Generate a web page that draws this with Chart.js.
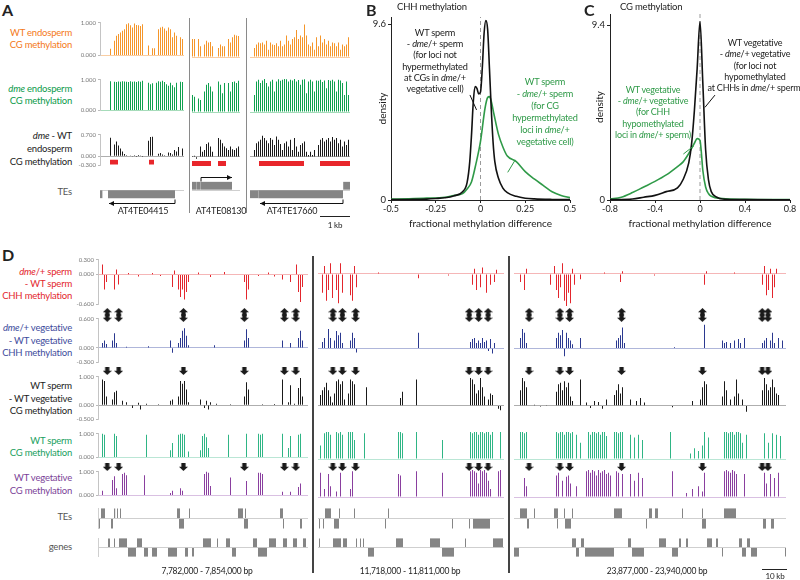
<!DOCTYPE html>
<html>
<head>
<meta charset="utf-8">
<script src="https://cdn.jsdelivr.net/npm/chart.js@4.4.1/dist/chart.umd.min.js"></script>
<style>
html, body { margin: 0; padding: 0; background: #fff; }
#fig { position: relative; width: 800px; height: 580px; overflow: hidden; font-family: Lato, "Open Sans", sans-serif; color: #222; }
#fig canvas { position: absolute; }
.t { position: absolute; white-space: nowrap; font-size: 10px; line-height: 14px; letter-spacing: -0.2px; }
.pl { position: absolute; font-weight: bold; font-size: 16px; line-height: 16px; }
.ln { position: absolute; }
</style>
</head>
<body>
<div id="fig"></div>
<script>
(function () {
    'use strict';

    // ---------- panel A: endosperm CG methylation (one value per 2 px bin) ----------
    const wtEndoA1 = [0, 0, 0, 0, 0, 0.2, 0, 0.45, 0.6, 0.65, 0.7, 0.75, 0.8, 0.95, 0.98, 0.92, 0.85, 0.97, 0.93, 0.92, 0.9, 0.95, 0, 0, 0.3, 0, 0.22, 0.22, 0, 0.8, 0.85, 0.87, 0.82, 0.75, 0.85, 0.8, 0.55, 0.7, 0.6, 0, 0.55, 0.5];
    const wtEndoA2 = [0.5, 0.5, 0, 0.5, 0.3, 0, 0.35, 0.45, 0.4, 0.42, 0.3, 0, 0, 0.25, 0.35, 0.3, 0.3, 0, 0.5, 0.4, 0.55, 0.62, 0.6, 0.58];
    const wtEndoA3 = [0, 0, 0.25, 0.35, 0.4, 0.38, 0.4, 0.35, 0.45, 0.2, 0.4, 0.35, 0.33, 0.38, 0.3, 0.45, 0.3, 0.35, 0.6, 0.45, 0.35, 0.5, 0.55, 0.75, 0.5, 0.6, 0.55, 0.9, 0.6, 0.35, 0.3, 0.4, 0.2, 0.55, 0.3, 0.6, 0.4, 0.5, 0.35, 0.45, 0.3, 0.4, 0.38, 0.3, 0.4, 0.2, 0.35, 0.3, 0.35, 0.55];

    const dmeEndoA1 = [0, 0, 0, 0, 0, 0.95, 0, 0.93, 0.92, 0.94, 0.93, 0.95, 0.94, 0.93, 0.92, 0.95, 0.93, 0.94, 0.92, 0.95, 0.93, 0.96, 0, 0, 0.9, 0.85, 0.88, 0, 0.9, 0.95, 0.93, 0.96, 0.92, 0.85, 0.8, 0.9, 0.82, 0.75, 0.9, 0, 0.93, 0.92];
    const dmeEndoA2 = [0.5, 0.45, 0, 0.4, 0.35, 0, 0.6, 0.8, 0.85, 0.75, 0.6, 0, 0, 0.9, 0.8, 0.55, 0.85, 0, 0.85, 0.6, 0.88, 0.9, 0.85, 0.92];
    const dmeEndoA3 = [0, 0, 0.5, 0.9, 0.95, 0.85, 0.93, 0.97, 0.85, 0.75, 0.9, 0.95, 0.6, 0.9, 0.96, 0.92, 0.95, 0.97, 0.96, 0.9, 0.95, 0.93, 0.97, 0.9, 0.94, 0.8, 0.95, 0.96, 0.55, 0.9, 0.95, 0.9, 0.6, 0.93, 0.92, 0.95, 0.88, 0.93, 0.7, 0.94, 0.92, 0.95, 0.9, 0.6, 0.95, 0.93, 0.85, 0.5, 0.9, 0.5];

    const diffEndoA1 = [0, 0, 0, 0, 0, 0.6, 0, 0.38, 0.48, 0.35, 0.25, 0.15, 0.07, 0.03, 0, 0.02, -0.02, 0.03, -0.03, 0.04, 0.02, -0.03, 0, 0, 0.5, 0.62, 0.63, 0, 0, 0.08, 0.1, 0.05, 0.03, 0, 0.12, 0.1, 0.05, 0.2, 0.15, 0.3, 0, 0.25];
    const diffEndoA2 = [0.02, 0.03, -0.06, 0, 0.3, 0.15, 0.2, 0.38, 0.42, 0.3, 0.15, 0, 0, 0.55, 0.5, 0.4, 0.3, 0.25, 0.2, 0.3, 0.22, 0.2, 0.25, 0.3];
    const diffEndoA3 = [0, 0, 0.2, 0.4, 0.45, 0.5, 0.62, 0.55, 0.48, 0.4, 0.55, 0.5, 0.35, 0.6, 0.5, 0.38, 0.2, 0.4, 0.45, 0.3, 0.5, 0.2, 0.55, 0.3, 0.15, 0.35, 0.4, 0.45, 0.15, 0.05, 0.15, 0.05, 0.2, 0, 0.35, 0.5, 0.55, 0.45, 0.5, 0.55, 0.45, 0.58, 0.5, 0.55, 0.4, 0.5, 0.3, 0.45, 0.35, 0.5];

    // hypomethylated regions (bin ranges)
    const dmrA1 = [[5, 9], [24.5, 27]];
    const dmrA2 = [[0, 9.5], [13, 17]];
    const dmrA3 = [[4.5, 27], [35, 50]];

    // TEs in panel A (bin ranges) and their orientation arrows [from, to]
    const teA1Minus = [[0, 1.2], [4, 37.5]];
    const teA2Plus = [[0, 2], [2.15, 4], [4.15, 20]];
    const teA3Minus = [[0, 4], [4.15, 46.5]];
    const teA3Plus = [[46.6, 50]];
    const teArrowA1 = [[37.5, 4.5]];
    const teArrowA2 = [[4.5, 20]];
    const teArrowA3 = [[46.5, 5]];

    const tickA01 = [0, 1];
    const tickDiffA = [-0.3, 0, 0.7];

    // ---------- panels B and C: density curves [difference, density] ----------
    const chhOtherLoci = [[-0.5, 0.02], [-0.4, 0.03], [-0.3, 0.05], [-0.25, 0.08], [-0.2, 0.12], [-0.15, 0.22], [-0.1, 0.45], [-0.075, 0.95], [-0.06, 2.1], [-0.05, 3.6], [-0.04, 5.4], [-0.03, 6.2], [-0.02, 6.1], [-0.01, 5.8], [0, 5.9], [0.01, 7.2], [0.02, 9.1], [0.03, 9.8], [0.04, 9.3], [0.05, 7.2], [0.06, 5.0], [0.07, 3.2], [0.08, 2.1], [0.1, 1.2], [0.125, 0.65], [0.15, 0.4], [0.2, 0.2], [0.25, 0.1], [0.3, 0.06], [0.4, 0.03], [0.5, 0.02]];
    const chhHyperLoci = [[-0.5, 0.05], [-0.4, 0.07], [-0.3, 0.1], [-0.2, 0.15], [-0.15, 0.25], [-0.1, 0.35], [-0.075, 0.6], [-0.05, 1.0], [-0.025, 2.0], [0, 3.2], [0.025, 5.0], [0.04, 5.6], [0.05, 5.65], [0.06, 5.4], [0.075, 4.7], [0.1, 3.6], [0.125, 2.9], [0.15, 2.4], [0.2, 2.1], [0.25, 1.55], [0.3, 1.15], [0.35, 0.8], [0.4, 0.45], [0.45, 0.25], [0.5, 0.13]];
    const cgOtherLoci = [[-0.8, 0.02], [-0.6, 0.05], [-0.5, 0.15], [-0.4, 0.25], [-0.3, 0.45], [-0.2, 0.65], [-0.15, 1.1], [-0.1, 2.0], [-0.075, 3.0], [-0.05, 4.8], [-0.025, 7.1], [0, 9.6], [0.025, 6.3], [0.05, 2.7], [0.075, 1.1], [0.1, 0.45], [0.15, 0.15], [0.2, 0.05], [0.4, 0.02], [0.8, 0.01]];
    const cgHypoLoci = [[-0.8, 0.05], [-0.7, 0.15], [-0.6, 0.4], [-0.5, 0.7], [-0.4, 1.0], [-0.3, 1.35], [-0.2, 1.8], [-0.15, 2.05], [-0.1, 2.5], [-0.05, 3.05], [-0.025, 3.3], [0, 3.2], [0.01, 2.7], [0.025, 1.6], [0.05, 0.7], [0.075, 0.35], [0.1, 0.2], [0.2, 0.08], [0.4, 0.04], [0.8, 0.02]];
    const ticksBx = [-0.5, -0.25, 0, 0.25, 0.5];
    const ticksCx = [-0.8, -0.4, 0, 0.4, 0.8];
    const ticksBy = [0, 9.6];
    const ticksCy = [0, 9.4];

    // ---------- panel D: sparse [bin, value] per window ----------
    const redD1 = [[2, 0.2], [3, -0.3], [4, -0.15], [8, -0.3], [9, 0.1], [10, -0.2], [15, 0.03], [20, -0.04], [27, 0.03], [31, -0.03], [37, -0.25], [38, 0.08], [40, -0.3], [41, -0.45], [42, -0.3], [43, -0.5], [44, -0.35], [45, -0.15], [50, 0.04], [56, -0.05], [63, 0.05], [73, -0.15], [74, -0.5], [75, -0.3], [80, -0.03], [85, 0.04], [88, -0.04], [92, -0.1], [96, -0.15], [99, 0.2], [100, -0.35], [101, -0.55], [102, -0.25]];
    const redD2 = [[2, -0.35], [3, 0.15], [4, -0.5], [5, -0.3], [6, 0.2], [7, -0.45], [9, -0.3], [10, -0.55], [11, 0.2], [12, -0.35], [16, -0.4], [17, -0.5], [18, 0.15], [19, -0.25], [30, 0.03], [50, -0.08], [65, -0.03], [77, -0.2], [78, 0.1], [79, -0.3], [81, -0.25], [82, 0.12], [84, -0.35], [86, -0.2], [88, -0.15], [89, 0.08]];
    const redD3 = [[3, -0.15], [5, -0.3], [6, 0.1], [18, -0.2], [20, 0.15], [21, -0.3], [22, -0.45], [23, -0.25], [24, 0.2], [25, -0.5], [26, -0.6], [27, -0.35], [28, -0.55], [29, 0.1], [30, -0.2], [33, -0.1], [45, 0.03], [53, -0.15], [54, 0.05], [70, -0.03], [95, -0.2], [96, 0.05], [110, 0.03], [124, -0.2], [125, 0.15], [126, -0.4], [127, -0.3], [128, 0.1], [129, -0.45], [130, -0.25], [131, 0.1]];

    const blueD1 = [[2, 0.1], [3, 0.15], [4, 0.08], [7, 0.15], [8, 0.3], [9, 0.1], [14, 0.02], [25, 0.03], [36, 0.15], [37, -0.1], [40, 0.1], [41, 0.2], [42, 0.35], [43, 0.4], [44, 0.25], [45, 0.05], [58, 0.05], [73, 0.15], [74, 0.38], [75, 0.2], [92, 0.15], [96, 0.1], [100, 0.2], [101, 0.35], [102, 0.15]];
    const blueD2 = [[2, 0.12], [3, 0.2], [5, 0.37], [6, 0.2], [8, 0.15], [9, 0.33], [10, 0.25], [11, 0.3], [12, 0.1], [16, 0.15], [17, 0.3], [18, 0.2], [19, -0.08], [50, 0.3], [76, 0.12], [77, 0.18], [78, 0.2], [79, 0.1], [80, 0.15], [81, 0.1], [82, 0.2], [83, 0.12], [84, 0.15], [85, -0.05], [86, 0.18], [87, -0.1], [88, 0.1]];
    const blueD3 = [[3, 0.2], [4, 0.37], [5, 0.3], [6, 0.1], [21, 0.2], [22, 0.3], [23, 0.25], [24, 0.35], [25, -0.15], [26, 0.3], [27, 0.2], [28, 0.15], [29, 0.08], [33, 0.2], [51, 0.15], [52, 0.2], [53, 0.25], [54, 0.4], [55, 0.1], [80, 0.02], [95, 0.45], [104, 0.15], [105, 0.1], [106, 0.12], [108, 0.1], [110, 0.15], [112, 0.18], [113, 0.1], [115, 0.2], [124, 0.1], [125, 0.15], [126, 0.2], [128, 0.15], [129, 0.3], [130, 0.1], [132, 0.2], [134, 0.15]];

    const cgDiffD1 = [[2, 0.9], [3, 0.85], [4, 0.3], [7, 0.2], [8, 0.45], [9, 0.5], [12, 0.15], [14, 0.1], [17, -0.1], [20, 0.08], [21, -0.15], [24, 0.05], [30, 0.03], [36, 0.15], [37, 0.2], [40, 0.3], [41, 0.85], [42, 0.75], [43, 0.85], [44, 0.55], [45, 0.1], [51, 0.2], [53, -0.1], [54, 0.15], [55, -0.15], [56, 0.1], [59, 0.05], [66, 0.03], [73, 0.3], [74, 0.8], [75, 0.55], [82, 0.03], [88, 0.04], [92, 0.9], [95, 0.1], [96, 0.7], [98, 0.05], [100, 0.6], [101, 0.95], [102, 0.3]];
    const cgDiffD2 = [[1, 0.35], [2, 0.5], [3, 0.6], [4, 0.75], [5, 0.5], [6, 0.3], [7, 0.1], [8, 0.4], [9, 0.8], [10, 0.85], [11, 0.7], [12, 0.8], [13, 0.2], [15, 0.4], [16, 0.85], [17, 0.8], [18, 0.7], [24, 0.6], [41, 0.25], [42, 0.45], [49, 0.85], [76, 0.9], [77, 0.85], [78, 0.7], [79, 0.4], [80, 0.5], [81, 0.9], [82, 0.6], [83, 0.3], [85, 0.2], [86, 0.4], [87, 0.35], [90, -0.1], [91, -0.15]];
    const cgDiffD3 = [[3, 0.5], [4, 0.9], [5, 0.8], [6, 0.6], [10, 0.03], [13, -0.03], [16, 0.02], [21, 0.45], [22, 0.7], [23, 0.75], [24, 0.5], [25, 0.8], [26, 0.6], [27, 0.75], [28, 0.3], [29, 0.15], [33, 0.85], [36, 0.1], [38, -0.08], [40, 0.15], [42, 0.12], [44, -0.1], [46, 0.2], [50, 0.35], [51, 0.5], [52, 0.7], [53, 0.4], [54, 0.6], [58, 0.2], [61, 0.15], [63, 0.25], [65, 0.1], [79, -0.05], [89, 0.15], [93, 0.2], [94, 0.6], [95, 0.8], [96, 0.7], [104, 0.3], [105, 0.8], [106, 0.5], [108, 0.2], [110, 0.3], [111, 0.85], [112, 0.4], [114, 0.2], [116, -0.2], [124, 0.5], [125, 0.9], [126, 0.7], [127, 0.5], [128, 0.6], [129, 0.85], [130, 0.6], [131, 0.4], [132, 0.35]];

    const spermCgD1 = [[2, 1.0], [3, 0.95], [8, 1.0], [9, 0.9], [24, 0.95], [36, 0.3], [37, 0.6], [40, 0.95], [41, 1.0], [42, 1.0], [43, 0.95], [45, 0.25], [51, 0.3], [52, 0.9], [53, 1.0], [54, 0.85], [55, 0.4], [65, 0.95], [74, 1.0], [80, 1.0], [81, 0.95], [82, 1.0], [92, 1.0], [95, 0.4], [96, 0.9], [100, 0.95], [101, 1.0]];
    const spermCgD2 = [[1, 0.5], [3, 0.95], [4, 1.0], [5, 1.0], [6, 0.9], [9, 1.0], [10, 0.95], [11, 1.0], [12, 0.9], [15, 1.0], [16, 1.0], [17, 1.0], [18, 0.7], [23, 0.95], [40, 1.0], [41, 1.0], [42, 0.95], [49, 1.0], [62, 0.7], [76, 1.0], [77, 0.95], [78, 1.0], [79, 1.0], [80, 0.9], [81, 1.0], [82, 1.0], [83, 0.95], [84, 1.0], [85, 1.0], [86, 0.9], [87, 1.0], [91, 1.0]];
    const spermCgD3 = [[3, 1.0], [4, 1.0], [5, 0.95], [6, 1.0], [21, 1.0], [22, 0.95], [23, 1.0], [24, 1.0], [25, 0.9], [26, 1.0], [27, 1.0], [28, 0.95], [29, 1.0], [31, 0.9], [33, 0.6], [37, 1.0], [38, 0.9], [39, 1.0], [40, 1.0], [41, 0.95], [42, 1.0], [43, 0.9], [44, 1.0], [45, 1.0], [46, 0.85], [50, 1.0], [51, 1.0], [52, 0.95], [53, 1.0], [54, 1.0], [58, 0.9], [60, 0.8], [62, 0.9], [64, 0.7], [78, 1.0], [88, 0.2], [90, 0.4], [92, 0.3], [94, 0.5], [95, 1.0], [97, 0.8], [105, 1.0], [106, 1.0], [107, 0.95], [108, 1.0], [109, 1.0], [110, 0.9], [111, 1.0], [112, 1.0], [113, 0.95], [114, 0.6], [116, 0.9], [125, 0.95], [127, 0.6], [129, 0.95], [131, 0.9], [133, 0.85]];

    const vegCgD1 = [[2, 0.2], [7, 0.65], [8, 0.8], [9, 0.3], [12, 0.9], [13, 0.95], [14, 0.85], [23, 0.85], [36, 0.1], [37, 0.2], [41, 0.3], [42, 0.2], [53, 0.9], [54, 1.0], [55, 0.95], [56, 0.4], [66, 0.75], [74, 0.6], [80, 0.95], [81, 0.95], [82, 0.9], [92, 0.15], [96, 0.15], [100, 0.35], [101, 0.5]];
    const vegCgD2 = [[1, 0.9], [3, 0.3], [5, 0.85], [6, 0.4], [9, 0.2], [11, 0.9], [16, 0.3], [17, 0.95], [40, 0.85], [41, 0.8], [49, 0.95], [62, 0.9], [76, 0.95], [77, 1.0], [78, 0.95], [79, 0.9], [80, 0.5], [81, 1.0], [82, 0.95], [83, 1.0], [84, 0.9], [85, 0.6], [86, 0.3], [90, 0.95], [91, 1.0]];
    const vegCgD3 = [[5, 0.7], [6, 0.4], [21, 0.8], [22, 0.9], [24, 0.6], [26, 0.75], [27, 0.8], [28, 0.5], [31, 0.4], [36, 0.95], [37, 1.0], [38, 0.9], [39, 1.0], [40, 0.95], [41, 0.8], [42, 1.0], [43, 0.9], [44, 0.95], [45, 1.0], [46, 0.85], [47, 0.9], [48, 0.8], [51, 0.95], [52, 0.9], [54, 0.85], [58, 0.85], [60, 0.6], [62, 0.9], [64, 0.7], [79, 0.95], [86, 0.15], [89, 0.3], [92, 0.4], [94, 0.2], [95, 0.9], [105, 0.95], [106, 1.0], [107, 0.95], [108, 0.9], [109, 1.0], [110, 0.95], [111, 0.85], [115, 0.85], [125, 0.9], [126, 0.5], [128, 0.85], [130, 0.7], [132, 0.9]];

    // loci marked with arrows (bin index)
    const lociD1 = [2, 8, 42, 74, 95, 101];
    const lociD2 = [5, 10, 17, 77, 82, 87];
    const lociD3 = [5, 21, 26, 53, 95, 126, 129];

    const teD1Plus = [[1.5, 3.5], [8, 8.6], [9.5, 10], [11, 11.5], [39.5, 41], [45.5, 46], [70, 72.5], [73.5, 74], [91, 92.5]];
    const teD1Minus = [[0.5, 1], [6.5, 7.5], [40.5, 43], [73, 75], [92.5, 93], [101, 102]];
    const teD2Plus = [[3.5, 6.5], [10.5, 11], [18, 18.5], [35, 35.5]];
    const teD2Minus = [[0.5, 1], [2.5, 3], [8, 10.5], [33.5, 34], [67, 67.5], [75.5, 76], [77.5, 86]];
    const teD3Plus = [[3, 6.5], [10, 10.5], [20, 22], [25, 25.5], [29, 29.5], [50, 54], [67.5, 69], [70.5, 72], [84, 84.5], [94, 94.5], [105, 111]];
    const teD3Minus = [[6.5, 7.5], [21.5, 22], [25.5, 28.5], [66, 66.5], [94, 96], [124.5, 126], [128.5, 130]];

    const geneD1Plus = [[5, 6], [8, 8.5], [10.5, 14.5], [19.5, 22], [52.5, 56.5], [59.5, 60], [64, 66], [77.5, 79.5], [85.5, 89], [92.5, 94.5], [97.5, 99.5], [102.5, 104]];
    const geneD1Minus = [[15, 19], [23, 25], [27, 29.5], [35, 39.5], [43.5, 45], [47, 48], [67, 69], [80, 84.5]];
    const geneD2Plus = [[0.5, 1], [7.5, 11.5], [12.5, 14.5], [19, 19.5], [21, 21.5], [22.5, 23], [39, 42.5], [56, 61], [73.5, 74], [87.5, 92.5]];
    const geneD2Minus = [[25, 28], [62, 68]];
    const geneD3Plus = [[29, 31], [33.5, 35], [57, 58.5], [72.5, 76], [82.5, 83.5], [86, 87], [96.5, 99], [101, 102], [112.5, 114], [116.5, 118]];
    const geneD3Minus = [[0, 2.5], [31, 32.5], [35.5, 50], [59, 65], [79, 82], [104, 104.5], [114, 116], [118.5, 121.5], [135.5, 136]];

    const tickRed = [-0.6, 0, 0.3];
    const tickBlue = [-0.3, 0, 0.6];
    const tickCgDiff = [-0.5, 0, 1];
    const tick01 = [0, 1];

    // ---------- layout (window origins kept on even pixels) ----------
    const fig = document.getElementById('fig');
    const AXW = 22;
    const colsA = [{ x0: 100, nb: 42 }, { x0: 192, nb: 24 }, { x0: 250, nb: 50 }];
    const colsD = [{ x0: 98, nb: 105 }, { x0: 318, nb: 93 }, { x0: 514, nb: 136 }];

    Chart.defaults.font.family = 'Lato, "Open Sans", sans-serif';
    Chart.defaults.color = '#333';

    function addCanvas(left, top, w, h) {
        const c = document.createElement('canvas');
        c.width = w;
        c.height = h;
        c.style.left = left + 'px';
        c.style.top = top + 'px';
        c.style.width = w + 'px';
        c.style.height = h + 'px';
        fig.appendChild(c);
        return c;
    }

    function baseOptions(extra) {
        return Object.assign({
            responsive: false,
            animation: false,
            events: [],
            plugins: { legend: { display: false }, tooltip: { enabled: false } }
        }, extra);
    }

    // each 2 px bin is drawn as a crisp 1 px bar (its left half) on a 1 px category grid
    function halfBins(values) {
        const v = new Array(values.length * 2).fill(null);
        values.forEach((y, i) => { v[2 * i] = y; });
        return v;
    }

    function dense(nb, pairs) {
        const v = new Array(nb).fill(null);
        pairs.forEach(([i, y]) => { v[i] = y; });
        return v;
    }

    function spanPx(nb, ranges, lo, hi) {
        const v = new Array(nb * 2).fill(null);
        ranges.forEach(([s, e]) => {
            for (let i = Math.round(s * 2); i < Math.round(e * 2) && i < nb * 2; i++) v[i] = [lo, hi];
        });
        return v;
    }

    function track(col, first, yTop, yBot, min, max, tickVals, values, color, baseColor, extra) {
        const w = col.nb * 2 + (first ? AXW : 0);
        const cv = addCanvas(col.x0 - (first ? AXW : 0), yTop - 4, w, yBot - yTop + 8);
        const data = halfBins(values);
        const datasets = [{
            data, backgroundColor: color, barPercentage: 1, categoryPercentage: 1,
            inflateAmount: 0, grouped: false
        }].concat(extra || []);
        return new Chart(cv, {
            type: 'bar',
            data: { labels: data.map((_, i) => i), datasets },
            options: baseOptions({
                layout: { padding: { top: 4, bottom: 4, left: 0, right: 0 } },
                scales: {
                    x: { display: false },
                    y: {
                        min, max,
                        afterBuildTicks: s => { s.ticks = tickVals.map(v => ({ value: v })); },
                        afterFit: s => { s.width = first ? AXW : 0; },
                        ticks: { display: first, font: { size: 6 }, color: '#777', padding: 2, callback: v => v.toFixed(3) },
                        grid: {
                            drawTicks: first, tickLength: 2, tickColor: '#aaa', lineWidth: 0.8,
                            color: c => (c.tick && c.tick.value === 0) ? baseColor : 'rgba(0,0,0,0)'
                        },
                        border: { display: first, color: '#c4c4c4' }
                    }
                }
            })
        });
    }

    // block arrow used as a point style
    const arrowImg = document.createElement('canvas');
    arrowImg.width = 9;
    arrowImg.height = 8;
    (function () {
        const g = arrowImg.getContext('2d');
        g.fillStyle = '#1a1a1a';
        g.beginPath();
        g.moveTo(4.5, 0); g.lineTo(9, 4.2); g.lineTo(6.6, 4.2); g.lineTo(6.6, 8);
        g.lineTo(2.4, 8); g.lineTo(2.4, 4.2); g.lineTo(0, 4.2);
        g.closePath();
        g.fill();
    })();

    function arrowRow(col, yTop, yBot, loci, rows) {
        const cv = addCanvas(col.x0, yTop, col.nb * 2, yBot - yTop);
        return new Chart(cv, {
            type: 'scatter',
            data: {
                datasets: rows.map(r => ({
                    data: loci.map(b => ({ x: b, y: r.y })),
                    pointStyle: arrowImg, rotation: r.rot, pointRadius: 3, clip: false
                }))
            },
            options: baseOptions({
                layout: { padding: 0 },
                scales: {
                    x: { display: false, min: -0.25, max: col.nb - 0.25 },
                    y: { display: false, min: 0, max: 1 }
                }
            })
        });
    }

    function strandArrowPlugin(arrows) {
        return {
            id: 'strandArrows',
            afterDatasetsDraw(chart) {
                const { ctx, scales: { x, y } } = chart;
                ctx.save();
                ctx.strokeStyle = '#111';
                ctx.fillStyle = '#111';
                ctx.lineWidth = 1;
                arrows.forEach(a => {
                    const x1 = x.getPixelForValue(a.from);
                    const x2 = x.getPixelForValue(a.to);
                    const yy = Math.round(y.getPixelForValue(y.getLabels().indexOf(a.band))) + 0.5;
                    const dir = Math.sign(x2 - x1);
                    const tick = a.band === 'a+' ? 4 : -4;
                    ctx.beginPath();
                    ctx.moveTo(x1, yy + tick);
                    ctx.lineTo(x1, yy);
                    ctx.lineTo(x2, yy);
                    ctx.stroke();
                    ctx.beginPath();
                    ctx.moveTo(x2, yy);
                    ctx.lineTo(x2 - dir * 5, yy - 2.5);
                    ctx.lineTo(x2 - dir * 5, yy + 2.5);
                    ctx.closePath();
                    ctx.fill();
                });
                ctx.restore();
            }
        };
    }

    function featureTrack(col, yTop, yBot, bands, boxes, arrows, first) {
        const cv = addCanvas(col.x0, yTop, col.nb * 2, yBot - yTop);
        const mid = bands.indexOf('-');
        const datasets = Object.keys(boxes).map(b => ({
            data: boxes[b].map(([s, e]) => ({ x: [s, e], y: b })),
            backgroundColor: '#858585', barPercentage: 0.92, categoryPercentage: 1, grouped: false
        }));
        return new Chart(cv, {
            type: 'bar',
            data: { datasets },
            options: baseOptions({
                indexAxis: 'y',
                layout: { padding: 0 },
                scales: {
                    x: { type: 'linear', display: false, min: 0, max: col.nb },
                    y: {
                        type: 'category', labels: bands, offset: true,
                        afterFit: s => { s.width = 0; },
                        ticks: { display: false },
                        grid: { offset: true, drawTicks: false, lineWidth: 1, color: c => c.index === mid ? '#cfcfcf' : 'rgba(0,0,0,0)' },
                        border: { display: !!first, color: '#cfcfcf' }
                    }
                }
            }),
            plugins: [strandArrowPlugin(arrows || [])]
        });
    }

    function leaderPlugin(lines) {
        return {
            id: 'leaders',
            afterDatasetsDraw(chart) {
                const { ctx, scales: { x, y } } = chart;
                ctx.save();
                ctx.lineWidth = 1;
                lines.forEach(l => {
                    ctx.strokeStyle = l.color;
                    ctx.beginPath();
                    ctx.moveTo(x.getPixelForValue(l.from[0]), y.getPixelForValue(l.from[1]));
                    ctx.lineTo(x.getPixelForValue(l.to[0]), y.getPixelForValue(l.to[1]));
                    ctx.stroke();
                });
                ctx.restore();
            }
        };
    }

    function curve(pairs, color) {
        return {
            data: pairs.map(([x, y]) => ({ x, y })), borderColor: color, borderWidth: 1.6,
            pointRadius: 0, cubicInterpolationMode: 'monotone', fill: false
        };
    }

    function density(left, padTop, axW, titlePad, xMin, xMax, xTicks, yTicks, datasets, leaders) {
        const cv = addCanvas(left, 0, 222, 236);
        return new Chart(cv, {
            type: 'line',
            data: { datasets },
            options: baseOptions({
                layout: { padding: { top: padTop, right: 10, left: 0, bottom: 0 } },
                scales: {
                    x: {
                        type: 'linear', min: xMin, max: xMax,
                        afterBuildTicks: s => { s.ticks = xTicks.map(v => ({ value: v })); },
                        afterFit: s => { s.height = 36; },
                        ticks: { font: { size: 9 }, color: '#222', padding: 1, maxRotation: 0, autoSkip: false, callback: v => String(v) },
                        grid: { drawOnChartArea: false, tickLength: 3, color: '#222' },
                        border: { color: '#222' },
                        title: { display: true, text: 'fractional methylation difference', font: { size: 10 }, color: '#222', padding: { top: 0, bottom: 6 } }
                    },
                    y: {
                        min: 0, max: 10,
                        afterBuildTicks: s => { s.ticks = yTicks.map(v => ({ value: v })); },
                        afterFit: s => { s.width = axW; },
                        ticks: { font: { size: 9.5 }, color: '#222', padding: 2, callback: v => String(v) },
                        grid: { drawOnChartArea: false, tickLength: 3, color: '#222' },
                        border: { color: '#222' },
                        title: { display: true, text: 'density', font: { size: 10 }, color: '#222', padding: { top: titlePad, bottom: 0 } }
                    }
                }
            }),
            plugins: [leaderPlugin(leaders)]
        });
    }

    function zeroLine() {
        return { data: [{ x: 0, y: 0 }, { x: 0, y: 10 }], borderColor: '#9a9a9a', borderDash: [4, 3], borderWidth: 1, pointRadius: 0 };
    }

    function label(lines, x, y, lh, align, color, size) {
        lines.forEach((ln, k) => {
            const d = document.createElement('div');
            d.className = 't';
            d.innerHTML = ln;
            d.style.top = (y + k * lh - 7) + 'px';
            d.style.color = color || '#222';
            if (size) d.style.fontSize = size + 'px';
            if (align === 'right') {
                d.style.right = (800 - x) + 'px';
            } else if (align === 'center') {
                d.style.left = (x - 150) + 'px';
                d.style.width = '300px';
                d.style.textAlign = 'center';
            } else {
                d.style.left = x + 'px';
            }
            fig.appendChild(d);
        });
    }

    function rule(left, top, w, h, color) {
        const d = document.createElement('div');
        d.className = 'ln';
        d.style.cssText = `left:${left}px;top:${top}px;width:${w}px;height:${h}px;background:${color}`;
        fig.appendChild(d);
    }

    function panelLetter(ch, x, y) {
        const d = document.createElement('div');
        d.className = 'pl';
        d.textContent = ch;
        d.style.left = x + 'px';
        d.style.top = y + 'px';
        fig.appendChild(d);
    }

    // ---------- panel A ----------
    const orangeSets = [wtEndoA1, wtEndoA2, wtEndoA3];
    const greenSets = [dmeEndoA1, dmeEndoA2, dmeEndoA3];
    const diffSets = [diffEndoA1, diffEndoA2, diffEndoA3];
    const dmrSets = [dmrA1, dmrA2, dmrA3];

    colsA.forEach((col, i) => {
        track(col, i === 0, 21, 57, 0, 1, tickA01, orangeSets[i], '#f5962a', '#f7c08a');
        track(col, i === 0, 78, 112, 0, 1, tickA01, greenSets[i], '#0fa14f', '#8fd3a8');
        track(col, i === 0, 133, 167, -0.3, 0.7, tickDiffA, diffSets[i], '#1a1a1a', '#999', [{
            data: spanPx(col.nb, dmrSets[i], -0.27, -0.12),
            backgroundColor: '#e8262b', barPercentage: 1, categoryPercentage: 1, inflateAmount: 0, grouped: false
        }]);
    });

    const aBands = ['a+', '+', '-', 'a-'];
    featureTrack(colsA[0], 173, 207, aBands, { '-': teA1Minus }, teArrowA1.map(([f, t]) => ({ from: f, to: t, band: 'a-' })));
    featureTrack(colsA[1], 173, 207, aBands, { '+': teA2Plus }, teArrowA2.map(([f, t]) => ({ from: f, to: t, band: 'a+' })));
    featureTrack(colsA[2], 173, 207, aBands, { '-': teA3Minus, '+': teA3Plus }, teArrowA3.map(([f, t]) => ({ from: f, to: t, band: 'a-' })));

    rule(189, 18, 1, 195, '#8a8a8a');
    rule(246, 18, 1, 195, '#8a8a8a');

    panelLetter('A', 2, 2);
    label(['WT endosperm', 'CG methylation'], 72, 33, 11.5, 'right', '#f47920', 9.5);
    label(['<i>dme</i> endosperm', 'CG methylation'], 72, 89, 11.5, 'right', '#0b9a4a', 9.5);
    label(['<i>dme</i> - WT', 'endosperm', 'CG methylation'], 72, 136, 13, 'right', '#222', 9.5);
    label(['TEs'], 72, 192, 12, 'right', '#555', 9.5);
    label(['AT4TE04415'], 143, 211, 12, 'center', '#222', 9);
    label(['AT4TE08130'], 221, 211, 12, 'center', '#222', 9);
    label(['AT4TE17660'], 292, 211, 12, 'center', '#222', 9);
    rule(320, 216, 30, 1, '#222');
    label(['1 kb'], 335, 225, 12, 'center', '#222', 8);

    // ---------- panels B and C ----------
    density(358, 17, 33, 19, -0.5, 0.5, ticksBx, ticksBy,
        [curve(chhOtherLoci, '#111'), curve(chhHyperLoci, '#2f9a48'), zeroLine()],
        [{ from: [-0.059, 5.74], to: [-0.022, 4.92], color: '#111' },
         { from: [0.194, 2.19], to: [0.152, 1.51], color: '#2f9a48' }]);
    density(578, 14, 32, 16, -0.8, 0.8, ticksCx, ticksCy,
        [curve(cgOtherLoci, '#111'), curve(cgHypoLoci, '#2f9a48'), zeroLine()],
        [{ from: [0.133, 5.64], to: [0.044, 4.98], color: '#111' },
         { from: [-0.148, 2.47], to: [-0.053, 2.92], color: '#2f9a48' }]);

    panelLetter('B', 366, 2);
    panelLetter('C', 584, 2);
    label(['CHH methylation'], 397, 7, 12, 'left', '#222', 9.5);
    label(['CG methylation'], 620, 7, 12, 'left', '#222', 9.5);
    label(['WT sperm', '- <i>dme</i>/+ sperm', '(for loci not', 'hypermethylated', 'at CGs in <i>dme</i>/+', 'vegetative cell)'], 435, 33, 11.2, 'center', '#222', 9.2);
    label(['WT sperm', '- <i>dme</i>/+ sperm', '(for CG', 'hypermethylated', 'loci in <i>dme</i>/+', 'vegetative cell)'], 545, 82, 12, 'center', '#2f9a48', 9.2);
    label(['WT vegetative', '- <i>dme</i>/+ vegetative', '(for loci not', 'hypomethylated', 'at CHHs in <i>dme</i>/+ sperm)'], 755, 43, 11.3, 'center', '#222', 9);
    label(['WT vegetative', '- <i>dme</i>/+ vegetative', '(for CHH', 'hypomethylated', 'loci in <i>dme</i>/+ sperm)'], 653, 90, 11.2, 'center', '#2f9a48', 9);

    // ---------- panel D ----------
    const dTracks = [
        { sets: [redD1, redD2, redD3], top: 258, bot: 306, min: -0.6, max: 0.3, ticks: tickRed, color: '#e3262d', base: '#f3a3a5' },
        { sets: [blueD1, blueD2, blueD3], top: 317, bot: 364, min: -0.3, max: 0.6, ticks: tickBlue, color: '#2b3990', base: '#9aa3d0' },
        { sets: [cgDiffD1, cgDiffD2, cgDiffD3], top: 375, bot: 421, min: -0.5, max: 1, ticks: tickCgDiff, color: '#1a1a1a', base: '#999' },
        { sets: [spermCgD1, spermCgD2, spermCgD3], top: 432, bot: 459, min: 0, max: 1, ticks: tick01, color: '#2fb585', base: '#a8dfca' },
        { sets: [vegCgD1, vegCgD2, vegCgD3], top: 470, bot: 497, min: 0, max: 1, ticks: tick01, color: '#8a3f9f', base: '#cfb0da' }
    ];
    dTracks.forEach(t => {
        colsD.forEach((col, i) => {
            track(col, i === 0, t.top, t.bot, t.min, t.max, t.ticks, dense(col.nb, t.sets[i]), t.color, t.base);
        });
    });

    const lociSets = [lociD1, lociD2, lociD3];
    colsD.forEach((col, i) => {
        arrowRow(col, 303, 327, lociSets[i], [{ y: 0.71, rot: 0 }, { y: 0.29, rot: 180 }]);
        arrowRow(col, 365, 377, lociSets[i], [{ y: 0.5, rot: 180 }]);
        arrowRow(col, 461, 473, lociSets[i], [{ y: 0.5, rot: 180 }]);
    });

    const teSets = [[teD1Plus, teD1Minus], [teD2Plus, teD2Minus], [teD3Plus, teD3Minus]];
    const geneSets = [[geneD1Plus, geneD1Minus], [geneD2Plus, geneD2Minus], [geneD3Plus, geneD3Minus]];
    colsD.forEach((col, i) => {
        featureTrack(col, 508, 529, ['+', '-'], { '+': teSets[i][0], '-': teSets[i][1] }, [], i === 0);
        featureTrack(col, 538, 557, ['+', '-'], { '+': geneSets[i][0], '-': geneSets[i][1] }, [], i === 0);
    });

    rule(312, 256, 1.5, 317, '#444');
    rule(508, 256, 1.5, 317, '#444');

    panelLetter('D', 2, 247);
    label(['<i>dme</i>/+ sperm', '- WT sperm', 'CHH methylation'], 72, 272, 11.8, 'right', '#e3262d', 9.5);
    label(['<i>dme</i>/+ vegetative', '- WT vegetative', 'CHH methylation'], 72, 328, 12.5, 'right', '#3d4b9c', 9.5);
    label(['WT sperm', '- WT vegetative', 'CG methylation'], 72, 386, 12.5, 'right', '#222', 9.5);
    label(['WT sperm', 'CG methylation'], 72, 441, 11.5, 'right', '#20a060', 9.5);
    label(['WT vegetative', 'CG methylation'], 72, 478, 12.5, 'right', '#7b3f98', 9.5);
    label(['TEs'], 72, 517, 12, 'right', '#555', 9.5);
    label(['genes'], 72, 547, 12, 'right', '#555', 9.5);
    label(['7,782,000 - 7,854,000 bp'], 207, 571, 12, 'center', '#222', 8.5);
    label(['11,718,000 - 11,811,000 bp'], 410, 571, 12, 'center', '#222', 8.5);
    label(['23,877,000 - 23,940,000 bp'], 657, 571, 12, 'center', '#222', 8.5);
    rule(762, 569, 25, 1, '#222');
    label(['10 kb'], 775, 576, 12, 'center', '#222', 8);
})();
</script>
</body>
</html>
